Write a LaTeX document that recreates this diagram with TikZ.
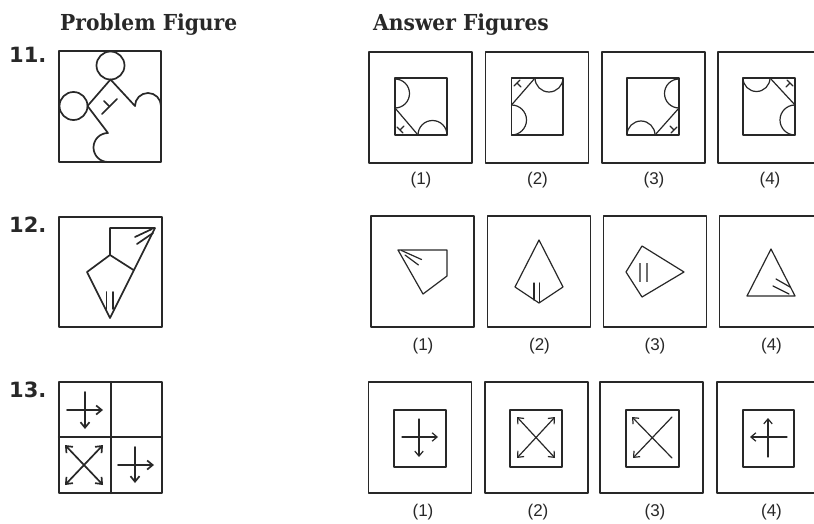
\documentclass[tikz,border=0pt]{standalone}
\usepackage{fontspec}
\setmainfont{Liberation Sans}
\newfontfamily\titlefont{DejaVu Serif}
\newfontfamily\numfont{DejaVu Sans}
\usetikzlibrary{arrows.meta}
\definecolor{ink}{RGB}{40,40,40}
\definecolor{softink}{RGB}{110,110,110}
\begin{document}
\begin{tikzpicture}[x=1pt,y=-1pt,
  every path/.style={line join=round,line cap=round},
  obox/.style={draw=ink,line width=1.3pt},
  ibox/.style={draw=ink,line width=1.3pt},
  pbox/.style={draw=ink,line width=1.8pt},
  fig/.style={draw=ink,line width=1.2pt},
  pfig/.style={draw=ink,line width=1.7pt},
  arr/.style={fig,-{Straight Barb[length=5pt,width=8.5pt]}},
  darr/.style={fig,{Straight Barb[length=5pt,width=8.5pt]}-{Straight Barb[length=5pt,width=8.5pt]}},
  parr/.style={pfig,-{Straight Barb[length=5.5pt,width=9pt]}},
  pdarr/.style={pfig,{Straight Barb[length=5.5pt,width=9pt]}-{Straight Barb[length=5.5pt,width=9pt]}},
  ttl/.style={anchor=base west,text=ink,font=\titlefont\bfseries\fontsize{22}{22}\selectfont,inner sep=0pt},
  num/.style={anchor=base west,text=ink,font=\numfont\bfseries\fontsize{21}{21}\selectfont,inner sep=0pt},
  lbl/.style={anchor=base,text=ink,font=\fontsize{17}{17}\selectfont,inner sep=0pt}]
\useasboundingbox (0,0) rectangle (814,524);
\fill[white] (0,0) rectangle (814,524);

% titles
\node[ttl] (tprob) at (60,31) {\scalebox{0.92}[1]{Problem Figure}};
\node[ttl] (tans) at (373,31) {\scalebox{0.92}[1]{Answer Figures}};

% question numbers
\node[num] (n11) at (9,63) {11.};
\node[num] (n12) at (9,232) {12.};
\node[num] (n13) at (9,397) {13.};

% ================= Row 11 =================
\draw[pbox] (59,51) rectangle (161,162);
\draw[pfig] (110.5,65.5) circle[radius=14];
\draw[pfig] (73.5,106) circle[radius=14];
\draw[pfig] (87.5,106) -- (110.5,79.5) -- (135,106)
  arc[start angle=180,end angle=360,radius=13];
\draw[pfig] (87.5,106) -- (108,133)
  arc[start angle=270,end angle=90,radius=14.5];
\draw[pfig] (117,99) -- (102,114);
\draw[pfig] (109.5,106.5) -- (104,101);

% answers
\foreach \cx in {420.5,537,653.5,769.5}{
  \draw[obox] (\cx-51.5,52) rectangle (\cx+51.5,163);
}
\draw[ibox] (395,78) rectangle (447,135);
\draw[ibox] (511.5,78) rectangle (563,135);
\draw[ibox] (627,78) rectangle (679,135);
\draw[ibox] (743,78) rectangle (795,135);
% (1)
\draw[fig] (395,79) arc[start angle=-90,end angle=90,radius=14.5];
\draw[fig] (395,108) -- (418,135);
\draw[fig] (418,135) arc[start angle=180,end angle=360,radius=14.5];
\draw[fig] (397,127) -- (403,133) (400,130) -- (404,126);
% (2)
\draw[fig] (511.5,105) -- (535,78);
\draw[fig] (535,78) arc[start angle=180,end angle=0,radius=14];
\draw[fig] (511.5,105) arc[start angle=-90,end angle=90,radius=15];
\draw[fig] (514,86) -- (520,80) (517,83) -- (521,87);
% (3)
\draw[fig] (679,79) arc[start angle=270,end angle=90,radius=14.5];
\draw[fig] (679,108) -- (655,135);
\draw[fig] (627,135) arc[start angle=180,end angle=360,radius=14];
\draw[fig] (671,133) -- (677,127) (674,130) -- (670,126);
% (4)
\draw[fig] (743,78) arc[start angle=180,end angle=0,radius=13.5];
\draw[fig] (770,78) -- (795,105);
\draw[fig] (795,105) arc[start angle=270,end angle=90,radius=15];
\draw[fig] (787,80) -- (793,86) (790,83) -- (786,87);

\node[lbl] (a11) at (421,184) {(1)};
\node[lbl] (b11) at (537.5,184) {(2)};
\node[lbl] (c11) at (654,184) {(3)};
\node[lbl] (d11) at (770,184) {(4)};

% ================= Row 12 =================
\draw[pbox] (59,217) rectangle (162,327);
\draw[pfig] (110,255) -- (110,228) -- (155,228) -- (110,318) -- (87,272) -- (110,255) -- (133.5,270);
\draw[pfig] (135,237) -- (152,229) (137,244) -- (153,233);
\draw[pfig] (106.5,292) -- (106.5,309) (113,292) -- (113,309);

\foreach \cx in {422.5,539,655,771}{
  \draw[obox] (\cx-51.5,216) rectangle (\cx+51.5,327);
}
% (1)
\draw[fig] (398,250) -- (447,250) -- (447,276) -- (423,294) -- cycle;
\draw[fig] (401.5,250.5) -- (421.5,259.5) (405,255) -- (418.5,265);
% (2)
\draw[fig] (539,240) -- (563,287) -- (539,303) -- (515,287) -- cycle;
\draw[fig] (534,283) -- (534,300) (539.5,283) -- (539.5,302);
% (3)
\draw[fig] (642,246) -- (684,272) -- (642,297) -- (626,272) -- cycle;
\draw[draw=softink,line width=2pt,line cap=butt] (640,263) -- (640,282) (647,263) -- (647,282);
% (4)
\draw[fig] (771,249) -- (795,296) -- (747,296) -- cycle;
\draw[fig] (776,279) -- (790,287) (773,286) -- (789,294);

\node[lbl] (a12) at (423,350) {(1)};
\node[lbl] (b12) at (539.5,350) {(2)};
\node[lbl] (c12) at (655,350) {(3)};
\node[lbl] (d12) at (771.5,350) {(4)};

% ================= Row 13 =================
\draw[pbox,line width=2.2pt] (59,382) rectangle (162,493);
\draw[pbox,line width=2.2pt] (111,382) -- (111,493) (59,437) -- (162,437);
\draw[parr] (67,410) -- (103,410);
\draw[parr] (85,392) -- (85,429);
\draw[pdarr] (65,445) -- (103,485);
\draw[pdarr] (103,445) -- (65,485);
\draw[parr] (118,465) -- (154,465);
\draw[parr] (135,447) -- (135,483);

\foreach \cx in {420,536.5,651.5,768.5}{
  \draw[obox] (\cx-51.5,382) rectangle (\cx+51.5,493);
}
\draw[ibox] (394,410) rectangle (446,467);
\draw[ibox] (510,410) rectangle (562,467);
\draw[ibox] (626,410) rectangle (679,467);
\draw[ibox] (743,410) rectangle (794,467);
% (1)
\draw[arr] (402,437) -- (438,437);
\draw[arr] (419,419) -- (419,457);
% (2)
\draw[darr] (517,417) -- (555,458);
\draw[darr] (555,417) -- (517,458);
% (3)
\draw[arr] (672,458) -- (632,417);
\draw[arr] (672,417) -- (633,458);
% (4)
\draw[arr] (787,437) -- (750,437);
\draw[arr] (768,457) -- (768,418);

\node[lbl] (a13) at (423,516) {(1)};
\node[lbl] (b13) at (538,516) {(2)};
\node[lbl] (c13) at (655,516) {(3)};
\node[lbl] (d13) at (771.5,516) {(4)};
\end{tikzpicture}
\end{document}
